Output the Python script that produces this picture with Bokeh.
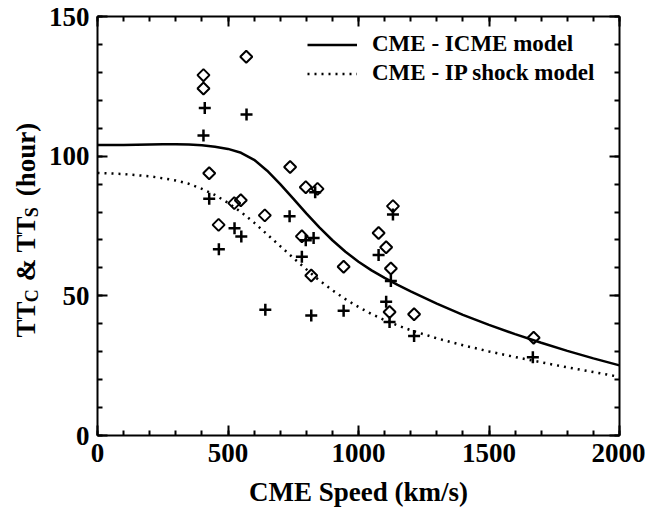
import math
from bokeh.plotting import figure
from bokeh.models import Range1d, LinearAxis, Legend, LegendItem, Label, FixedTicker
from bokeh.embed import file_html
from bokeh.resources import INLINE

# ---- data ----
icme_speed = [406, 406, 428, 464, 524, 549, 570, 641, 738, 783, 798, 843, 819, 943,
              1077, 1106, 1119, 1124, 1132, 1213, 1671]
icme_tt = [124.2, 129.0, 93.9, 75.4, 83.2, 84.2, 135.6, 78.8, 96.1, 71.3, 88.9, 88.3, 57.3, 60.4,
           72.5, 67.4, 44.2, 59.8, 82.1, 43.4, 35.0]

shock_speed = [411, 406, 428, 465, 525, 551, 571, 643, 736, 783, 798, 828, 834, 819, 943,
               1077, 1106, 1119, 1124, 1132, 1213, 1668]
shock_tt = [117.2, 107.4, 84.8, 66.7, 74.2, 71.2, 114.9, 45.0, 78.5, 64.0, 69.9, 70.7, 87.1, 43.0, 44.7,
            64.6, 47.9, 40.6, 55.3, 79.1, 35.6, 28.0]

model_speed = [0, 100, 200, 250, 300, 350, 400, 450, 500, 550, 600, 650, 700, 750, 800, 850, 900,
               950, 1000, 1050, 1100, 1150, 1200, 1300, 1400, 1500, 1600, 1700, 1800, 1900, 2000]
icme_model = [104.0, 104.0, 104.2, 104.3, 104.3, 104.2, 103.9, 103.4, 102.6, 101.2, 98.7, 94.8, 90.0,
              84.8, 79.5, 74.5, 69.9, 65.8, 62.2, 59.1, 56.4, 53.9, 51.6, 47.2, 43.2, 39.6, 36.3,
              33.2, 30.3, 27.6, 25.1]
shock_model = [94.0, 93.6, 92.8, 92.1, 91.3, 90.1, 88.3, 86.1, 83.3, 80.0, 76.2, 72.0, 67.8, 63.6,
               59.5, 55.5, 52.0, 48.8, 46.0, 43.5, 41.3, 39.4, 37.7, 34.8, 32.3, 30.1, 28.1, 26.2,
               24.4, 22.7, 21.0]

x_major = [0, 500, 1000, 1500, 2000]
y_major = [0, 50, 100, 150]

FONT = "Liberation Serif"

W, H = 645, 509
FL, FT, FR, FB = 97, 16, 619, 443  # frame edges in pixels

p = figure(width=W, height=H, output_backend="svg", toolbar_location=None,
           x_range=Range1d(0, 2000), y_range=Range1d(0, 150),
           min_border_left=FL, min_border_right=W - FR, min_border_top=FT, min_border_bottom=H - FB)
p.outline_line_color = None
p.grid.visible = False
p.background_fill_color = "white"
p.border_fill_color = "white"

l1 = p.line(model_speed, icme_model, line_color="black", line_width=2.5)
l2 = p.line(model_speed, shock_model, line_color="black", line_width=2.5, line_dash="2 5")

p.scatter(icme_speed, icme_tt, marker="square", size=8.5, angle=math.pi / 4,
          fill_color=None, line_color="black", line_width=2)
p.scatter(shock_speed, shock_tt, marker="cross", size=12, line_color="black", line_width=2.5)


def style_axis(ax, show_labels):
    ax.axis_line_width = 2
    ax.axis_line_color = "black"
    ax.major_tick_line_width = 2
    ax.minor_tick_line_width = 2
    ax.major_tick_in = 10
    ax.major_tick_out = 0
    ax.minor_tick_in = 5
    ax.minor_tick_out = 0
    ax.major_label_text_font = FONT
    ax.major_label_text_font_style = "bold"
    ax.major_label_text_font_size = "27px" if show_labels else "0px"
    ax.major_label_text_color = "black"
    ax.major_label_standoff = 8 if show_labels else 0


xt = FixedTicker(ticks=x_major, minor_ticks=list(range(0, 2001, 100)))
yt = FixedTicker(ticks=y_major, minor_ticks=list(range(0, 151, 10)))

p.xaxis.ticker = xt
p.yaxis.ticker = yt
style_axis(p.xaxis[0], True)
style_axis(p.yaxis[0], True)
p.xaxis.axis_label = "CME Speed (km/s)"
p.xaxis.axis_label_text_font = FONT
p.xaxis.axis_label_text_font_style = "bold"
p.xaxis.axis_label_text_font_size = "27px"
p.xaxis.axis_label_text_color = "black"
p.xaxis.axis_label_standoff = 12

top = LinearAxis(ticker=xt)
style_axis(top, False)
p.add_layout(top, "above")
right = LinearAxis(ticker=yt)
style_axis(right, False)
p.add_layout(right, "right")

# ---- y-axis title "TT_C & TT_S (hour)": main text + subscripts, rotated ----
px_per_y = (FB - FT) / 150.0
px_per_x = (FR - FL) / 2000.0
NB = "\u00a0"
MAIN, SUB = 27, 18
w_tt = 2 * 0.667 * MAIN
w_gap = 2 * 0.25 * MAIN
w_amp = (0.25 + 0.833 + 0.25 + 2 * 0.667) * MAIN
w_hour = (0.25 + 0.333 + 0.556 + 0.5 + 0.556 + 0.444 + 0.333) * MAIN
total = w_tt + w_gap + w_amp + w_gap + w_hour
center_px = (FB - FT) / 2.0 - 6              # from frame bottom
start_px = center_px - total / 2.0
main_text = "TT" + NB * 2 + " & TT" + NB * 2 + " (hour)"
p.add_layout(Label(x=(25 - FL) / px_per_x, y=start_px / px_per_y, text=main_text,
                   angle=math.pi / 2, text_font=FONT, text_font_style="bold",
                   text_font_size=f"{MAIN}px", text_align="left", text_baseline="middle",
                   text_color="black"), "left")
c_start = start_px + w_tt
s_start = c_start + w_gap + w_amp
n_sp = int(round((s_start - c_start - 0.722 * SUB) / (0.25 * SUB)))
sub_text = "C" + NB * n_sp + "S"
p.add_layout(Label(x=(31 - FL) / px_per_x, y=c_start / px_per_y, text=sub_text,
                   angle=math.pi / 2, text_font=FONT, text_font_style="bold",
                   text_font_size=f"{SUB}px", text_align="left", text_baseline="middle",
                   text_color="black"), "right")

legend = Legend(items=[LegendItem(label="CME - ICME model", renderers=[l1]),
                       LegendItem(label="CME - IP shock model", renderers=[l2])],
                location=(210, 349), orientation="vertical")
legend.label_text_font = FONT
legend.label_text_font_style = "bold"
legend.label_text_font_size = "23px"
legend.label_text_color = "black"
legend.glyph_width = 50
legend.glyph_height = 25
legend.label_standoff = 15
legend.spacing = 3
legend.padding = 0
legend.margin = 0
legend.border_line_color = None
legend.background_fill_alpha = 0
p.add_layout(legend, "center")

open("out.html", "w").write(file_html(p, INLINE))
